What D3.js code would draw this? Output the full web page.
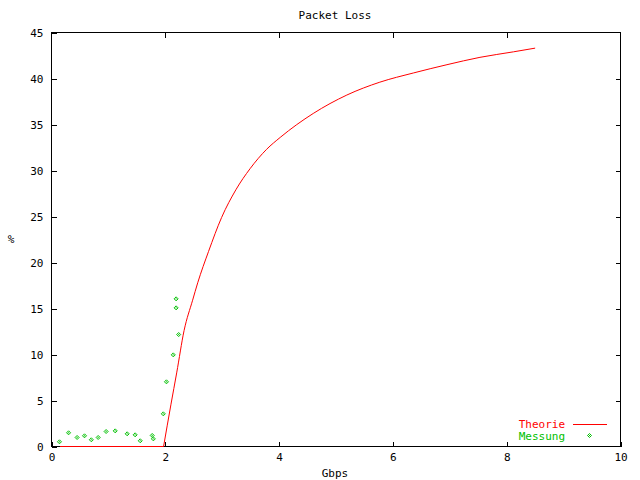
<!DOCTYPE html>
<html lang="en">
<head>
    <meta charset="UTF-8">
    <title>Packet Loss</title>
    <style>
        body { margin: 0; background: #fff; }
        svg text { font-family: "DejaVu Sans Mono", monospace; font-size: 11px; }
        .axis path { display: none; }
        .axis line { stroke: #000; shape-rendering: crispEdges; }
    </style>
</head>
<body>
    <svg id="chart" width="640" height="480"></svg>
    <script src="https://d3js.org/d3.v7.min.js"></script>
    <script>
        // Theory curve
        var theoryX = [0.15, 1.97, 2.1, 2.2, 2.33, 2.48, 2.57, 2.76, 2.99, 3.24, 3.49, 3.78, 4.02, 4.6, 5.19, 5.77, 6.36, 6.95, 7.53, 8.12, 8.5];
        var theoryY = [0, 0, 4.6, 8.0, 12.6, 15.9, 17.8, 21.2, 24.9, 27.9, 30.2, 32.3, 33.6, 36.2, 38.2, 39.6, 40.6, 41.5, 42.3, 42.9, 43.3];

        // Measured points
        var measX = [0.14, 0.30, 0.45, 0.58, 0.70, 0.82, 0.96, 1.12, 1.33, 1.47, 1.56, 1.77, 1.79, 1.965, 2.02, 2.14, 2.19, 2.19, 2.235];
        var measY = [0.51, 1.49, 0.98, 1.16, 0.73, 0.98, 1.63, 1.70, 1.38, 1.27, 0.62, 1.20, 0.83, 3.55, 7.03, 9.96, 15.07, 16.05, 12.17];

        var xTicks = [0, 2, 4, 6, 8, 10];
        var yTicks = [0, 5, 10, 15, 20, 25, 30, 35, 40, 45];

        var plotL = 51.5, plotR = 620.5, plotT = 32.5, plotB = 446.5;

        var svg = d3.select("#chart");
        svg.append("rect").attr("width", 640).attr("height", 480).attr("fill", "#fff");

        var x = d3.scaleLinear().domain([0, 10]).range([plotL, plotR]);
        var y = d3.scaleLinear().domain([0, 45]).range([plotB, plotT]);

        // axes with inward ticks, mirrored on top and right
        svg.append("g").attr("class", "axis")
            .attr("transform", "translate(0," + plotB + ")")
            .call(d3.axisBottom(x).tickValues(xTicks).tickSize(-5).tickPadding(7).tickFormat(d3.format("d")));
        svg.append("g").attr("class", "axis")
            .attr("transform", "translate(" + plotL + ",0)")
            .call(d3.axisLeft(y).tickValues(yTicks).tickSize(-5).tickPadding(8).tickFormat(d3.format("d")));
        svg.append("g").attr("class", "axis")
            .attr("transform", "translate(0," + plotT + ")")
            .call(d3.axisTop(x).tickValues(xTicks.slice(1, -1)).tickSize(-5).tickFormat(""));
        svg.append("g").attr("class", "axis")
            .attr("transform", "translate(" + plotR + ",0)")
            .call(d3.axisRight(y).tickValues(yTicks.slice(1, -1)).tickSize(-5).tickFormat(""));

        svg.selectAll(".axis").attr("font-family", null).attr("font-size", null);
        svg.selectAll(".axis text").attr("fill", "#000");

        // border
        svg.append("rect")
            .attr("x", plotL).attr("y", plotT)
            .attr("width", plotR - plotL).attr("height", plotB - plotT)
            .attr("fill", "none").attr("stroke", "#000")
            .style("shape-rendering", "crispEdges");

        // theory line: flat part straight, rising part smoothed
        var pts = d3.zip(theoryX, theoryY);
        var kink = 1;
        var flat = d3.line()
            .x(function(d) { return x(d[0]); })
            .y(function(d) { return y(d[1]); });
        var rise = d3.line()
            .x(function(d) { return x(d[0]); })
            .y(function(d) { return y(d[1]); })
            .curve(d3.curveMonotoneX);
        svg.append("path")
            .attr("d", flat(pts.slice(0, kink + 1)) + rise(pts.slice(kink)))
            .attr("fill", "none")
            .attr("stroke", "#ff0000")
            .attr("stroke-width", 1);

        // measured points
        var green = "#00c000";
        function marker(g) {
            g.append("path").attr("d", "M0,-2L2,0L0,2L-2,0Z")
                .attr("fill", "none").attr("stroke", green).attr("stroke-width", 1);
            g.append("rect").attr("x", -0.5).attr("y", -0.5).attr("width", 1).attr("height", 1).attr("fill", green);
        }
        svg.selectAll(".pt")
            .data(d3.zip(measX, measY))
            .enter().append("g")
            .attr("class", "pt")
            .attr("transform", function(d) { return "translate(" + x(d[0]) + "," + y(d[1]) + ")"; })
            .call(marker);

        // labels
        svg.append("text").attr("x", 335).attr("y", 19).attr("text-anchor", "middle").attr("fill", "#000").text("Packet Loss");
        svg.append("text").attr("x", 335).attr("y", 477).attr("text-anchor", "middle").attr("fill", "#000").text("Gbps");
        svg.append("text").attr("x", 11).attr("y", 243).attr("text-anchor", "middle").attr("fill", "#000").text("%");

        // legend
        svg.append("text").attr("x", 565).attr("y", 428).attr("text-anchor", "end")
            .attr("fill", "#ff0000").text("Theorie");
        svg.append("line").attr("x1", 573).attr("x2", 607).attr("y1", 424.5).attr("y2", 424.5)
            .attr("stroke", "#ff0000").attr("stroke-width", 1);
        svg.append("text").attr("x", 565).attr("y", 440).attr("text-anchor", "end")
            .attr("fill", green).text("Messung");
        svg.append("g").attr("transform", "translate(589.5,435.5)").call(marker);
    </script>
</body>
</html>
